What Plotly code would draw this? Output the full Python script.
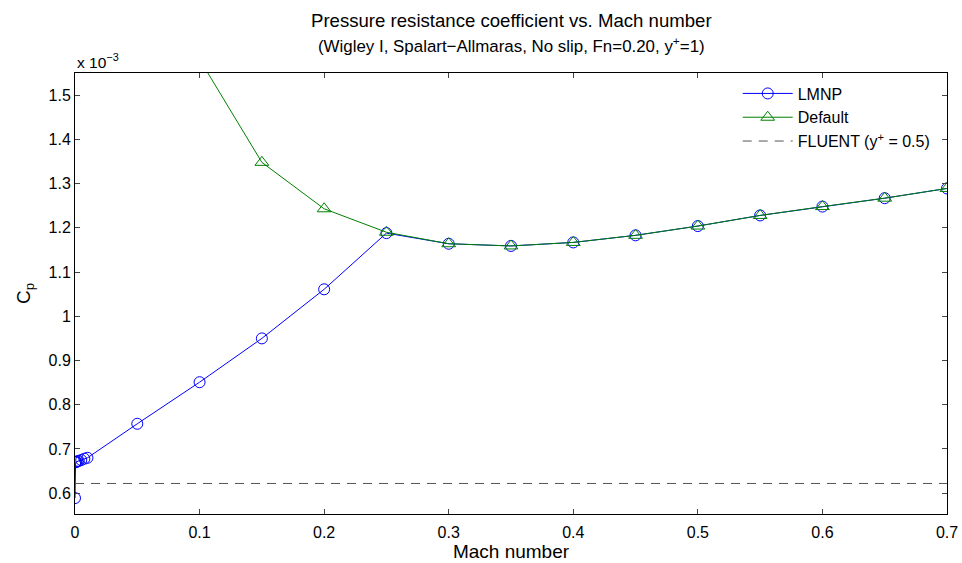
import plotly.graph_objects as go

mach_lmnp = [0.0, 0.0002, 0.0005, 0.001, 0.002, 0.003, 0.005, 0.0075, 0.01, 0.05, 0.1, 0.15, 0.2, 0.25,
             0.3, 0.35, 0.4, 0.45, 0.5, 0.55, 0.6, 0.65, 0.7]
cp_lmnp = [0.589, 0.670, 0.670, 0.671, 0.672, 0.673, 0.675, 0.678, 0.680, 0.757, 0.851, 0.950, 1.061, 1.188,
           1.164, 1.159, 1.167, 1.183, 1.204, 1.228, 1.248, 1.267, 1.289]

mach_def = [0.1, 0.15, 0.2, 0.25, 0.3, 0.35, 0.4, 0.45, 0.5, 0.55, 0.6, 0.65, 0.7]
cp_def = [1.581, 1.348, 1.243, 1.190, 1.164, 1.159, 1.167, 1.183, 1.204, 1.228, 1.248, 1.267, 1.289]

fluent_x = [0.0, 0.7]
fluent_cp = [0.622, 0.622]

x_ticks = [0, 0.1, 0.2, 0.3, 0.4, 0.5, 0.6, 0.7]
y_ticks = [0.6, 0.7, 0.8, 0.9, 1.0, 1.1, 1.2, 1.3, 1.4, 1.5]
y_labels = ["0.6", "0.7", "0.8", "0.9", "1", "1.1", "1.2", "1.3", "1.4", "1.5"]

fig = go.Figure()
fig.add_trace(go.Scatter(x=mach_lmnp, y=cp_lmnp, mode="lines+markers", name="LMNP",
                         line=dict(color="#0000ff", width=1),
                         marker=dict(symbol="circle-open", size=11, color="#0000ff", line=dict(width=1))))
fig.add_trace(go.Scatter(x=mach_def, y=cp_def, mode="lines+markers", name="Default",
                         line=dict(color="#008000", width=1),
                         marker=dict(symbol="triangle-up-open", size=12, color="#008000", line=dict(width=1))))
fig.add_trace(go.Scatter(x=fluent_x, y=fluent_cp, mode="lines", name="FLUENT (y<sup>+</sup> = 0.5)",
                         line=dict(color="#555555", width=1, dash="9px,7px")))

font = "Liberation Sans, Arial, Helvetica, sans-serif"
fig.update_layout(
    width=962, height=563,
    margin=dict(l=75, r=15, t=73, b=49, autoexpand=False),
    paper_bgcolor="white", plot_bgcolor="white",
    font=dict(family=font, size=16, color="black"),
    showlegend=True,
    legend=dict(x=0.76, y=0.992, xanchor="left", yanchor="top", bgcolor="rgba(0,0,0,0)",
                borderwidth=0, font=dict(size=16), itemwidth=50, tracegroupgap=0),
    xaxis=dict(range=[0, 0.7], tickvals=x_ticks, ticks="inside", ticklen=5, tickcolor="#444",
               showline=True, linecolor="black", linewidth=1, mirror="ticks", showgrid=False,
               zeroline=False, tickfont=dict(size=16), automargin=False, ticklabeloverflow="allow",
               ticklabelstandoff=4,
               title=dict(text="Mach number", standoff=1, font=dict(size=19))),
    yaxis=dict(range=[0.553, 1.55], tickvals=y_ticks, ticktext=y_labels, ticks="inside", ticklen=5,
               tickcolor="#444", showline=True, linecolor="black", linewidth=1, mirror="ticks",
               showgrid=False, zeroline=False, tickfont=dict(size=16), automargin=False,
               title=dict(text="C<sub>p</sub>", standoff=12, font=dict(size=19))),
)
fig.add_annotation(text="Pressure resistance coefficient vs. Mach number", xref="paper", yref="paper",
                   x=0.5, y=1, yanchor="bottom", yshift=40, showarrow=False, font=dict(size=18.6))
fig.add_annotation(text="(Wigley I, Spalart−Allmaras, No slip, Fn=0.20, y<sup>+</sup>=1)", xref="paper",
                   yref="paper", x=0.5, y=1, yanchor="bottom", yshift=15, showarrow=False, font=dict(size=16.9))
fig.add_annotation(text="x 10<sup>−3</sup>", x=0, y=1, xref="paper", yref="paper", xanchor="left",
                   yanchor="bottom", showarrow=False, font=dict(size=15.5), yshift=0)

fig.write_html("out.html")
